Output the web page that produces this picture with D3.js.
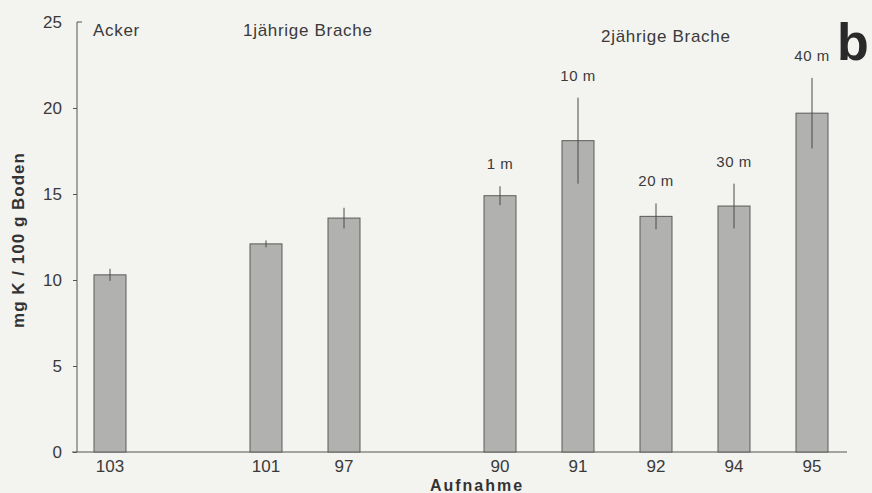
<!DOCTYPE html>
<html>
<head>
<meta charset="utf-8">
<script src="https://cdn.jsdelivr.net/npm/d3@7"></script>
<style>
  body { margin: 0; background: #f3f3f0; }
  svg { display: block; font-family: Arial, "Liberation Sans", sans-serif; }
</style>
</head>
<body>
<div id="chart"></div>
<script>
// slots include two empty gaps between the groups
const slots = ['103', 'gap1', '101', '97', 'gap2', '90', '91', '92', '94', '95'];
const categories = ['103', '101', '97', '90', '91', '92', '94', '95'];
const values = [10.3, 12.1, 13.6, 14.9, 18.1, 13.7, 14.3, 19.7];
const errors = [0.35, 0.2, 0.6, 0.55, 2.5, 0.75, 1.3, 2.05];
const distLabels = ['', '', '', '1 m', '10 m', '20 m', '30 m', '40 m'];
const yTicks = [0, 5, 10, 15, 20, 25];
const groupLabels = [
  { text: 'Acker', at: '103', dx: -1, y: 36 },
  { text: '1jährige Brache', at: '101', dx: -7, y: 36 },
  { text: '2jährige Brache', at: '91', dx: 39, y: 42 }
];

const width = 872, height = 493;
const svg = d3.select('#chart').append('svg')
  .attr('width', width)
  .attr('height', height);

const x = d3.scaleBand()
  .domain(slots)
  .range([71, 851])
  .paddingInner(0.59)
  .paddingOuter(0.295);

const y = d3.scaleLinear()
  .domain([0, 25])
  .range([452, 22]);

const axisColor = '#555';
const textColor = '#3a3a3a';

// y axis
const yAxis = svg.append('g')
  .attr('transform', 'translate(77,0)')
  .call(d3.axisLeft(y).tickValues(yTicks).tickSize(4).tickPadding(11));
yAxis.select('.domain').attr('stroke', axisColor).attr('d', `M5,${y(25)}H0V${y(0)}`);
yAxis.selectAll('.tick line')
  .attr('stroke', axisColor)
  .attr('display', d => d === 25 ? 'none' : null);
yAxis.selectAll('.tick text')
  .attr('fill', textColor)
  .style('font-size', '17px');

// x axis baseline
svg.append('line')
  .attr('x1', 72).attr('x2', 847)
  .attr('y1', y(0)).attr('y2', y(0))
  .attr('stroke', axisColor)
  .attr('stroke-width', 1.2);

const data = categories.map((c, i) => ({ key: c, value: values[i], err: errors[i], label: distLabels[i] }));

// bars
svg.selectAll('rect.bar')
  .data(data)
  .enter().append('rect')
  .attr('class', 'bar')
  .attr('x', d => x(d.key))
  .attr('y', d => y(d.value))
  .attr('width', x.bandwidth())
  .attr('height', d => y(0) - y(d.value))
  .attr('fill', '#b1b1af')
  .attr('stroke', '#5a5a5a')
  .attr('stroke-width', 1);

// error bars
svg.selectAll('line.err')
  .data(data)
  .enter().append('line')
  .attr('class', 'err')
  .attr('x1', d => x(d.key) + x.bandwidth() / 2)
  .attr('x2', d => x(d.key) + x.bandwidth() / 2)
  .attr('y1', d => y(d.value + d.err))
  .attr('y2', d => y(d.value - d.err))
  .attr('stroke', '#4a4a4a')
  .attr('stroke-width', 1);

// x tick labels
svg.selectAll('text.xlab')
  .data(data)
  .enter().append('text')
  .attr('class', 'xlab')
  .attr('x', d => x(d.key) + x.bandwidth() / 2)
  .attr('y', 472)
  .attr('text-anchor', 'middle')
  .attr('fill', textColor)
  .style('font-size', '17px')
  .text(d => d.key);

// distance labels above bars
svg.selectAll('text.dist')
  .data(data.filter(d => d.label))
  .enter().append('text')
  .attr('class', 'dist')
  .attr('x', d => x(d.key) + x.bandwidth() / 2)
  .attr('y', d => y(d.value + d.err) - 17)
  .attr('text-anchor', 'middle')
  .attr('fill', textColor)
  .style('font-size', '15px')
  .style('letter-spacing', '0.5px')
  .text(d => d.label);

// group labels
svg.selectAll('text.group')
  .data(groupLabels)
  .enter().append('text')
  .attr('class', 'group')
  .attr('x', d => x(d.at) + d.dx)
  .attr('y', d => d.y)
  .attr('fill', textColor)
  .style('font-size', '17px')
  .style('letter-spacing', '0.7px')
  .text(d => d.text);

// panel letter
svg.append('text')
  .attr('x', 837)
  .attr('y', 60)
  .attr('fill', '#2a2a2a')
  .style('font-size', '52px')
  .style('font-weight', 'bold')
  .text('b');

// axis titles
svg.append('text')
  .attr('transform', `translate(24,${y(12.5) + 3}) rotate(-90)`)
  .attr('text-anchor', 'middle')
  .attr('fill', '#333')
  .style('font-size', '17px')
  .style('font-weight', 'bold')
  .style('letter-spacing', '1px')
  .text('mg K / 100 g Boden');

svg.append('text')
  .attr('x', 477)
  .attr('y', 491)
  .attr('text-anchor', 'middle')
  .attr('fill', '#333')
  .style('font-size', '16px')
  .style('font-weight', 'bold')
  .style('letter-spacing', '2px')
  .text('Aufnahme');
</script>
</body>
</html>
